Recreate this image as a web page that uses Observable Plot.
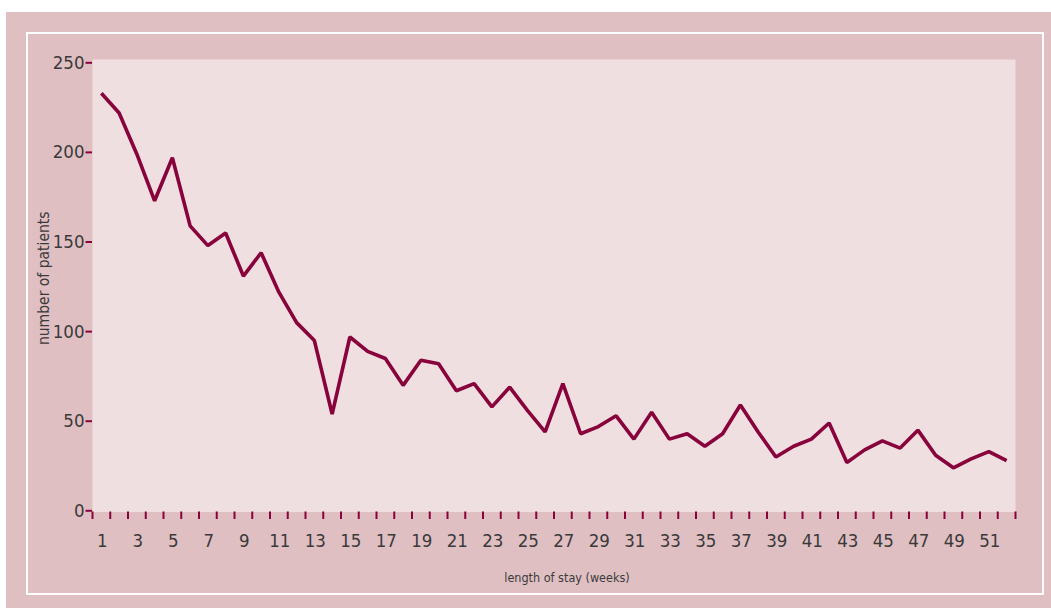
<!DOCTYPE html>
<html>
<head>
<meta charset="utf-8">
<script src="https://cdn.jsdelivr.net/npm/d3@7"></script>
<script src="https://cdn.jsdelivr.net/npm/@observablehq/plot@0.6"></script>
<style>
  html, body { margin: 0; padding: 0; background: #ffffff; }
  #wrap { position: relative; width: 1051px; height: 608px; overflow: hidden; }
  #panel { position: absolute; left: 6px; top: 12px; width: 1045px; height: 596px; background: #e0bfc3; }
  #border { position: absolute; left: 26px; top: 32px; width: 1014px; height: 559px; border: 2px solid #ffffff; }
  #chart { position: absolute; left: 0; top: 0; }
</style>
</head>
<body>
<div id="wrap">
  <div id="panel"></div>
  <div id="border"></div>
  <div id="chart"></div>
</div>
<script>
const weeks = d3.range(1, 53);
const patients = [
  233, 222, 199, 173, 197, 159, 148, 155, 131, 144,
  122, 105, 95, 54, 97, 89, 85, 70, 84, 82,
  67, 71, 58, 69, 56, 44, 71, 43, 47, 53,
  40, 55, 40, 43, 36, 43, 59, 44, 30, 36,
  40, 49, 27, 34, 39, 35, 45, 31, 24, 29,
  33, 28
];
const yTicks = [0, 50, 100, 150, 200, 250];
const xLabels = d3.range(1, 53, 2);
const xTickMarks = d3.range(0.5, 53, 1);
const xTitle = "length of stay (weeks)";
const yTitle = "number of patients";

const data = weeks.map((w, i) => ({week: w, n: patients[i]}));

const font = "'DejaVu Sans Condensed', 'Liberation Sans Narrow', sans-serif";
const maroon = "#88033b";
const textColor = "#3a3a3a";

const chart = Plot.plot({
  width: 1051,
  height: 608,
  marginLeft: 92,
  marginRight: 36,
  marginTop: 59,
  marginBottom: 96.5,
  style: {background: "transparent", fontFamily: font},
  x: {type: "linear", domain: [0.5, 52.5]},
  y: {domain: [0, 250], range: [510.3, 62.3]},
  marks: [
    Plot.frame({fill: "#f0dfe0", stroke: null}),
    Plot.axisY({ticks: yTicks, tickSize: 6.5, stroke: maroon, strokeWidth: 2, tickFormat: () => "", label: null}),
    Plot.text(yTicks, {y: d => d, frameAnchor: "left", dx: -8, textAnchor: "end", fill: textColor, fontSize: 18.5}),
    Plot.axisX({ticks: xTickMarks, tickSize: 7.5, stroke: maroon, strokeWidth: 2, tickFormat: () => "", label: null}),
    Plot.text(xLabels, {x: d => d, frameAnchor: "bottom", dx: 1, dy: 35, fill: textColor, fontSize: 18.5}),
    Plot.line(data, {x: "week", y: "n", stroke: maroon, strokeWidth: 3.6, strokeLinejoin: "miter", strokeLinecap: "butt"}),
    Plot.text([xTitle], {frameAnchor: "bottom", dx: 13, dy: 70, fill: textColor, fontSize: 12.5}),
    Plot.text([yTitle], {frameAnchor: "left", textAnchor: "middle", dx: -48, dy: -7.5, rotate: -90, fill: textColor, fontSize: 15.5})
  ]
});
document.getElementById("chart").appendChild(chart);
</script>
</body>
</html>
